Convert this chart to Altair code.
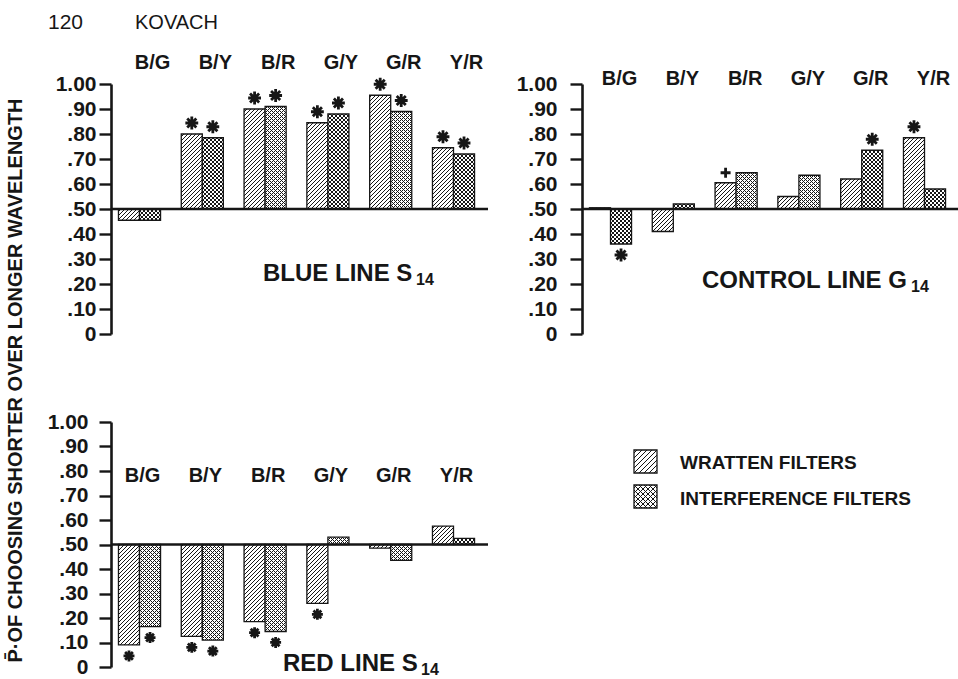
import altair as alt

# ---------------------------------------------------------------------------
# Data: proportion of choosing the shorter over the longer wavelength
# ---------------------------------------------------------------------------
categories = ["B/G", "B/Y", "B/R", "G/Y", "G/R", "Y/R"]
filters = ["WRATTEN", "INTERFERENCE"]
legend_labels = ["WRATTEN FILTERS", "INTERFERENCE FILTERS"]
y_ticks = [0, 0.1, 0.2, 0.3, 0.4, 0.5, 0.6, 0.7, 0.8, 0.9, 1.0]

# Blue line S14
blue_written = [0.455, 0.80, 0.90, 0.845, 0.955, 0.745]
blue_interf = [0.455, 0.785, 0.91, 0.88, 0.89, 0.72]
blue_written_sig = ["", "*", "*", "*", "*", "*"]
blue_interf_sig = ["", "*", "*", "*", "*", "*"]

# Control line G14
control_written = [0.505, 0.41, 0.605, 0.55, 0.62, 0.785]
control_interf = [0.36, 0.52, 0.645, 0.635, 0.735, 0.58]
control_written_sig = ["", "", "+", "", "", "*"]
control_interf_sig = ["*", "", "", "", "*", ""]

# Red line S14
red_written = [0.09, 0.125, 0.185, 0.26, 0.485, 0.575]
red_interf = [0.165, 0.11, 0.145, 0.53, 0.435, 0.525]
red_written_sig = ["*", "*", "*", "*", "", ""]
red_interf_sig = ["*", "*", "*", "", "", ""]

# ---------------------------------------------------------------------------
# Styling and geometry
# ---------------------------------------------------------------------------
FONT = "Liberation Sans"
INK = "#161616"
PAPER = "#ffffff"
CLEAR = "rgba(255,255,255,0)"

PANEL_W = 377
TOP_H = 250
RED_H = 245
PAD_INNER = 0.33
PAD_OUTER = 0.1666
BAND_ALIGN = 0.357
STEP = PANEL_W / (len(categories) - PAD_INNER + 2 * PAD_OUTER)
BAR_W = STEP * (1 - PAD_INNER) / len(filters)

STAR = "M-1,0L1,0M0,-1L0,1M-0.71,-0.71L0.71,0.71M-0.71,0.71L0.71,-0.71"
PLUS = "M-1,0L1,0M0,-1L0,1"

LABEL_EXPR = (
    "datum.value == 0 ? '0' : (datum.value > 0.995 ? '1.00' : "
    "replace(format(datum.value, '.2f'), '0.', '.'))"
)


def stripes(w, h, direction, paper, period=4.0, width=1.0):
    """Linear gradient painting 45-degree hatch lines across a w x h box."""
    r = h / w
    g = (1 + r) / (1 + r * r)
    span = w + h
    stops = [{"offset": 0, "color": paper}]
    s = period / 2
    while s < span:
        a = round(s / span, 5)
        b = round(min(s + width, span) / span, 5)
        stops += [
            {"offset": a, "color": paper},
            {"offset": a, "color": INK},
            {"offset": b, "color": INK},
            {"offset": b, "color": paper},
        ]
        s += period
    stops.append({"offset": 1, "color": paper})
    x1, x2 = (0, g) if direction == "/" else (1, 1 - g)
    return {
        "gradient": "linear",
        "x1": x1,
        "y1": 0,
        "x2": round(x2, 6),
        "y2": round(r * g, 6),
        "stops": stops,
    }


def records(written, interf, wsig, isig, plot_h):
    rows = []
    for i, cat in enumerate(categories):
        for filt, vals, sigs in (
            ("WRATTEN", written, wsig),
            ("INTERFERENCE", interf, isig),
        ):
            v = vals[i]
            h = max(abs(v - 0.5) * plot_h, 0.5)
            rows.append(
                {
                    "cat": cat,
                    "filter": filt,
                    "value": v,
                    "sig": sigs[i],
                    "hatch": stripes(BAR_W, h, "/", PAPER),
                    "cross": stripes(BAR_W, h, "\\", CLEAR),
                }
            )
    return rows


ONE = alt.Data(values=[{"k": 0}])


def note(text, x, y, size, weight="bold", align="left"):
    return alt.Chart(ONE).mark_text(
        text=text,
        font=FONT,
        fontSize=size,
        fontWeight=weight,
        align=align,
        baseline="alphabetic",
        color=INK,
    ).encode(x=alt.value(x), y=alt.value(y))


def panel(rows, plot_h, cat_pad, cat_offset, cat_axis_offset, tick_pad,
          star_size, notes, y_title=None):
    base = alt.Chart(alt.Data(values=rows))

    x_axis = alt.Axis(
        orient="top", domain=False, ticks=False, tickSize=0, grid=False,
        labelAngle=0, labelFont=FONT, labelFontWeight="bold", labelFontSize=20,
        labelColor=INK, labelPadding=cat_pad, labelOffset=cat_offset,
        labelBaseline="middle", labelOverlap=False, offset=cat_axis_offset,
        title=None,
    )
    x = alt.X(
        "cat:N", sort=categories, axis=x_axis,
        scale=alt.Scale(paddingInner=PAD_INNER, paddingOuter=PAD_OUTER,
                        align=BAND_ALIGN),
    )
    xo = alt.XOffset(
        "filter:N", sort=filters,
        scale=alt.Scale(paddingInner=0, paddingOuter=0),
    )

    axis_kw = dict(
        orient="left", values=y_ticks, labelExpr=LABEL_EXPR, grid=False,
        domain=True, domainColor=INK, domainWidth=2.6,
        ticks=True, tickColor=INK, tickWidth=2.4, tickSize=12,
        labelFont=FONT, labelFontWeight="bold", labelFontSize=21,
        labelColor=INK, labelPadding=tick_pad, labelOverlap=False,
        labelFlush=False,
    )
    if y_title:
        axis_kw.update(
            title=y_title, titleX=-96, titleY=296, titleAngle=270,
            titleAlign="center", titleBaseline="middle", titleFont=FONT,
            titleFontSize=20, titleFontWeight="bold", titleColor=INK,
        )
    else:
        axis_kw["title"] = None
    y_scale = alt.Scale(domain=[0, 1], nice=False, zero=False)
    y = alt.Y("value:Q", scale=y_scale, axis=alt.Axis(**axis_kw))

    bars = base.mark_bar(stroke=INK, strokeWidth=1.3).encode(
        x=x, xOffset=xo, y=y, y2=alt.datum(0.5),
        fill=alt.Fill("hatch:N", scale=None),
    )
    cross = base.transform_filter("datum.filter == 'INTERFERENCE'").mark_bar(
        strokeWidth=0
    ).encode(
        x=x, xOffset=xo, y=y, y2=alt.datum(0.5),
        fill=alt.Fill("cross:N", scale=None),
    )
    baseline = alt.Chart(alt.Data(values=[{"v": 0.5}])).mark_rule(
        color=INK, strokeWidth=2.6
    ).encode(y=alt.Y("v:Q", scale=y_scale, axis=alt.Axis(**axis_kw)))

    def marker(cond, shape, size, dy):
        return base.transform_filter(cond).mark_point(
            shape=shape, size=size, filled=False, color=INK, opacity=1,
            strokeWidth=2.8, strokeCap="butt", yOffset=dy,
        ).encode(x=x, xOffset=xo, y=y)

    stars_up = marker("datum.sig == '*' && datum.value > 0.5", STAR, star_size, -11)
    stars_dn = marker("datum.sig == '*' && datum.value < 0.5", STAR, star_size, 11)
    plus_up = marker("datum.sig == '+'", PLUS, 100, -10)

    layers = [bars, cross, baseline, stars_up, stars_dn, plus_up] + notes
    return alt.layer(*layers).properties(width=PANEL_W, height=plot_h)


blue = panel(
    records(blue_written, blue_interf, blue_written_sig, blue_interf_sig, TOP_H),
    TOP_H, cat_pad=22, cat_offset=13, cat_axis_offset=0, tick_pad=3,
    star_size=165,
    notes=[
        note("120", -63, -55, 21, weight="normal"),
        note("KOVACH", 24, -55, 20, weight="normal"),
        note("BLUE LINE S", 152, 197, 24),
        note("14", 305, 201, 16),
    ],
    y_title="P\u0304\u00b7OF CHOOSING SHORTER OVER LONGER WAVELENGTH",
)

control = panel(
    records(control_written, control_interf, control_written_sig,
            control_interf_sig, TOP_H),
    TOP_H, cat_pad=6, cat_offset=9, cat_axis_offset=0, tick_pad=13,
    star_size=165,
    notes=[
        note("CONTROL LINE G", 120, 204, 24),
        note("14", 329, 208, 16),
    ],
)

red = panel(
    records(red_written, red_interf, red_written_sig, red_interf_sig, RED_H),
    RED_H, cat_pad=0, cat_offset=3, cat_axis_offset=-53, tick_pad=11,
    star_size=120,
    notes=[
        note("RED LINE S", 172, 249, 24),
        note("14", 310, 253, 16),
    ],
)

# Legend drawn as a small panel of hatched swatches
legend_rows = [
    {
        "label": legend_labels[i],
        "filter": filters[i],
        "hatch": stripes(23, 23, "/", PAPER, period=5),
        "cross": stripes(23, 23, "\\", CLEAR, period=5),
    }
    for i in range(len(filters))
]
legend_base = alt.Chart(alt.Data(values=legend_rows))
legend_y = alt.Y(
    "label:N", sort=legend_labels, axis=None,
    scale=alt.Scale(range=[28, 86], paddingInner=0.343, paddingOuter=0),
)
swatch = legend_base.mark_rect(stroke=INK, strokeWidth=1.3).encode(
    y=legend_y, x=alt.value(52), x2=alt.value(75),
    fill=alt.Fill("hatch:N", scale=None),
)
swatch_cross = legend_base.transform_filter(
    "datum.filter == 'INTERFERENCE'"
).mark_rect(strokeWidth=0).encode(
    y=legend_y, x=alt.value(52), x2=alt.value(75),
    fill=alt.Fill("cross:N", scale=None),
)
legend_text = legend_base.mark_text(
    align="left", baseline="middle", dy=2, font=FONT, fontSize=19,
    fontWeight="bold", color=INK,
).encode(y=legend_y, x=alt.value(98), text="label:N")
legend = alt.layer(swatch, swatch_cross, legend_text).properties(
    width=PANEL_W, height=RED_H
)

# Two-by-two grid: blue | control over red | legend
chart = (
    alt.concat(
        blue, control, red, legend,
        columns=2,
        spacing={"row": 88, "column": 94},
        bounds="flush",
    )
    .properties(
        autosize=alt.AutoSizeParams(type="none"),
        padding={"left": 111, "top": 84, "right": 847, "bottom": 595},
        background="white",
    )
    .configure_view(strokeWidth=0)
)

chart.save("out.html", embed_options={"renderer": "svg", "actions": False})
